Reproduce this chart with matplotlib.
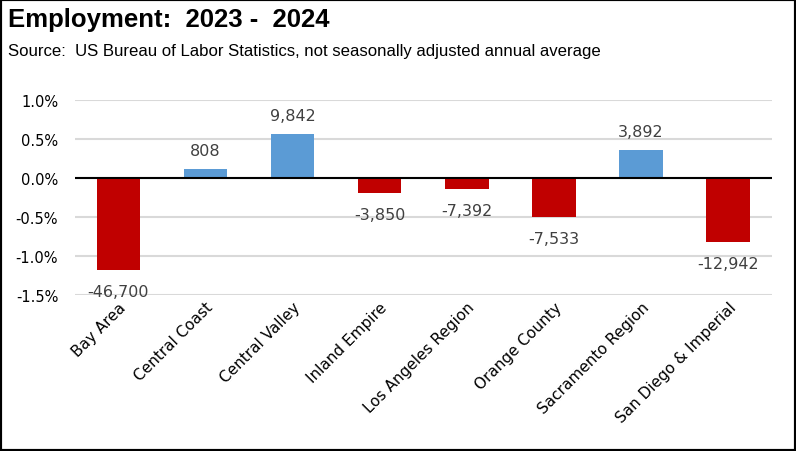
import numpy as np
import matplotlib.pyplot as plt
from matplotlib.ticker import FuncFormatter
from matplotlib.patches import Rectangle

# ==========================
# Data
# ==========================
regions = ["Bay Area", "Central Coast", "Central Valley", "Inland Empire",
           "Los Angeles Region", "Orange County", "Sacramento Region",
           "San Diego & Imperial"]
pct_change = [-1.18, 0.11, 0.564, -0.19, -0.14, -0.50, 0.355, -0.82]
job_change = [-46700, 808, 9842, -3850, -7392, -7533, 3892, -12942]
y_ticks = [-1.5, -1.0, -0.5, 0.0, 0.5, 1.0]

plt.rcParams['font.family'] = ['DejaVu Sans']

fig = plt.figure(figsize=(7.96, 4.52), dpi=100)
ax = fig.add_axes([0.094, 0.346, 0.8755, 0.431])

x = np.arange(len(regions))
colors = ["#5B9BD5" if v >= 0 else "#C00000" for v in pct_change]
ax.bar(x, pct_change, width=0.5, color=colors, zorder=3)

for xi, v, n in zip(x, pct_change, job_change):
    off = 13.5 if v >= 0 else -16
    ax.annotate(f"{n:,}", (xi, v), xytext=(0, off), textcoords="offset points",
                ha="center", va="center", fontsize=11.5, color="#404040",
                zorder=4)

ax.set_xlim(-0.5, len(regions) - 0.5)
ax.set_ylim(-1.5, 1.0)
ax.set_yticks(y_ticks)
ax.yaxis.set_major_formatter(FuncFormatter(lambda v, p: f"{v:.1f}%"))
ax.grid(axis="y", color="#D9D9D9", linewidth=1.5, zorder=0)
ax.axhline(0, color="black", linewidth=1.5, zorder=4)

for s in ax.spines.values():
    s.set_visible(False)
ax.tick_params(axis="both", length=0, labelsize=10.5, colors="black")
ax.tick_params(axis="y", pad=12)
ax.set_xticks(x)
ax.set_xticklabels(regions, rotation=45, ha="right", rotation_mode="anchor",
                   fontsize=11)

fig.text(0.01, 0.955, "Employment:  2023 -  2024", fontsize=18.5,
         fontweight="bold", va="center", ha="left", family=['Liberation Sans'])
fig.text(0.01, 0.885, "Source:  US Bureau of Labor Statistics, not seasonally adjusted annual average",
         fontsize=12.1, va="center", ha="left", family=['Liberation Sans'])

fig.patches.append(Rectangle((0, 0), 1, 1, transform=fig.transFigure,
                             fill=False, edgecolor="black", linewidth=3))

plt.savefig("out.png", dpi=100)
